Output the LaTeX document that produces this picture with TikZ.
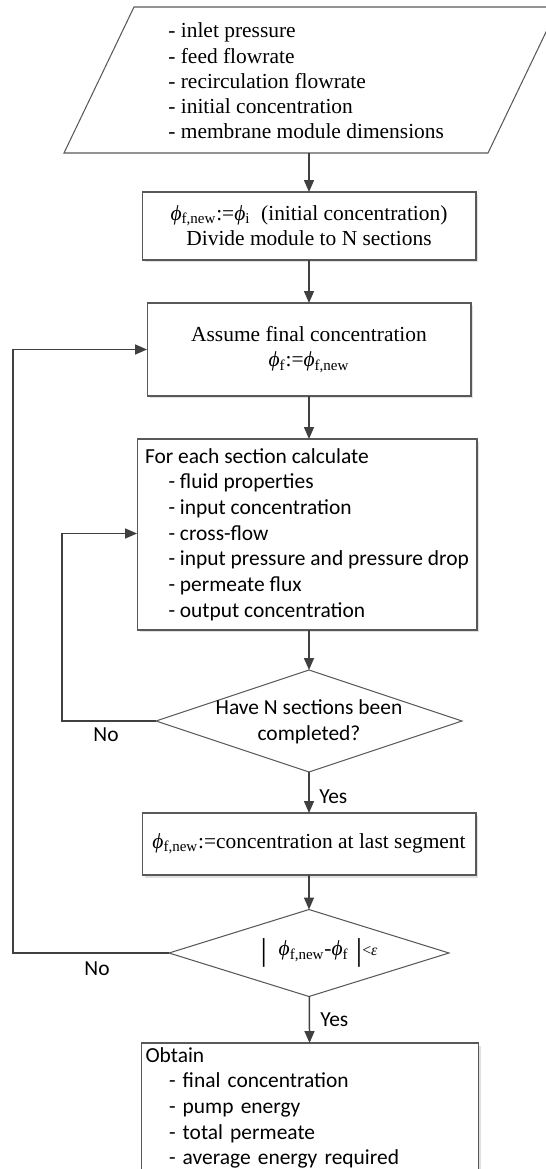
\documentclass[tikz,border=0pt]{standalone}
\usepackage{fontspec}
\setmainfont{Liberation Serif}
\newfontfamily\calib{Carlito}
\usetikzlibrary{shapes.geometric,arrows.meta,shadows}
\newcommand{\fphi}{\textit{ϕ}}
\newcommand{\tallbar}{\raisebox{-0.22em}{\fontsize{18}{18}\selectfont|}}

\begin{document}
\begin{tikzpicture}[x=0.02cm,y=-0.02cm,
  >={Triangle[length=0.24cm,width=0.2cm]},
  procbox/.style={draw=black!65,line width=0.6pt,fill=white,inner sep=0pt,outer sep=0pt,
    drop shadow={shadow xshift=0.05cm,shadow yshift=-0.05cm,fill=black!30,opacity=0.4}},
  decision/.style={diamond,draw=black!65,line width=0.6pt,fill=white,inner sep=0pt,outer sep=0pt},
  flowline/.style={draw=black!75,line width=0.85pt},
  serif/.style={font=\fontsize{12.2}{14.4}\selectfont,align=center},
  sans/.style={font=\calib\fontsize{12.2}{14.6}\selectfont}]

\useasboundingbox (0,0) rectangle (546,1169);

% Define coordinates for the input parallelogram
\coordinate (inBL) at (64,153);
\coordinate (inBR) at (488,153);
\coordinate (inTR) at (558,7);
\coordinate (inTL) at (134,7);
\coordinate (inbot) at (309,153);
% Draw the input parallelogram
\draw[draw=black!65,line width=0.6pt] (inBL) -- (inBR) -- (inTR) -- (inTL) -- cycle;
\node[serif,align=left,anchor=west,inner sep=0pt] (inputs) at (168,81)
  {- inlet pressure\\- feed flowrate\\- recirculation flowrate\\- initial concentration\\- membrane module dimensions};

% Draw the process boxes
\node[procbox,serif,minimum width=6.68cm,minimum height=1.36cm] (init) at (309,226)
  {\fphi\textsubscript{f,new}:=\fphi\textsubscript{i}\ \ (initial concentration)\\Divide module to N sections};
\node[procbox,serif,minimum width=6.48cm,minimum height=1.86cm] (assume) at (309,349.5)
  {Assume final concentration\\\fphi\textsubscript{f}:=\fphi\textsubscript{f,new}};
\node[procbox,sans,align=left,minimum width=6.8cm,minimum height=3.82cm] (calc) at (307,534.5)
  {For each section calculate\\
   \hspace*{0.47cm}- fluid properties\\
   \hspace*{0.47cm}- input concentration\\
   \hspace*{0.47cm}- cross-flow\\
   \hspace*{0.47cm}- input pressure and pressure drop\\
   \hspace*{0.47cm}- permeate flux\\
   \hspace*{0.47cm}- output concentration};

% Draw the first decision
\node[decision,minimum width=6.12cm,minimum height=2.04cm] (check) at (309,721) {};
\node[sans,align=center] (checktxt) at (309,721.5) {Have N sections been\\completed?};

\node[procbox,serif,minimum width=6.68cm,minimum height=1.24cm] (last) at (309,844)
  {\fphi\textsubscript{f,new}:=concentration at last segment};

% Draw the second decision
\node[decision,minimum width=5.6cm,minimum height=1.74cm] (conv) at (309,953) {};
\node[serif] (convtxt) at (319,953)
  {\tallbar\hspace{0.55em}\fphi\textsubscript{f,new}-\fphi\textsubscript{f}\hspace{0.35em}\tallbar{\small<\textit{ε}}};

\node[procbox,sans,align=left,text width=6.58cm,inner xsep=0.08cm,minimum width=6.74cm,minimum height=2.6cm] (result) at (310,1108)
  {Obtain\\
   \hspace*{0.47cm}- final concentration\\
   \hspace*{0.47cm}- pump energy\\
   \hspace*{0.47cm}- total permeate\\
   \hspace*{0.47cm}- average energy required};

% Corners of the two loops
\coordinate (inner) at (62,533.5);
\coordinate (outer) at (13,349.5);

% Draw the arrows
\draw[flowline,->] (inbot) -- (init);
\draw[flowline,->] (init) -- (assume);
\draw[flowline,->] (assume) -- (assume |- calc.north);
\draw[flowline,->] (calc.south -| check) -- (check);
\draw[flowline,->] (check) -- (last);
\draw[flowline,->] (last) -- (conv);
\draw[flowline,->] (conv) -- (result);
\draw[flowline,->] (check.west) -| (inner) -- (calc.west |- inner);
\draw[flowline,->] (conv.west) -| (outer) -- (assume.west);

% Add labels for Yes/No
\node[sans] (no1) at (106,735) {No};
\node[sans] (no2) at (97,969) {No};
\node[sans,anchor=west,inner sep=0pt] (yes1) at (319,797) {Yes};
\node[sans,anchor=west,inner sep=0pt] (yes2) at (320,1020) {Yes};
\end{tikzpicture}
\end{document}
